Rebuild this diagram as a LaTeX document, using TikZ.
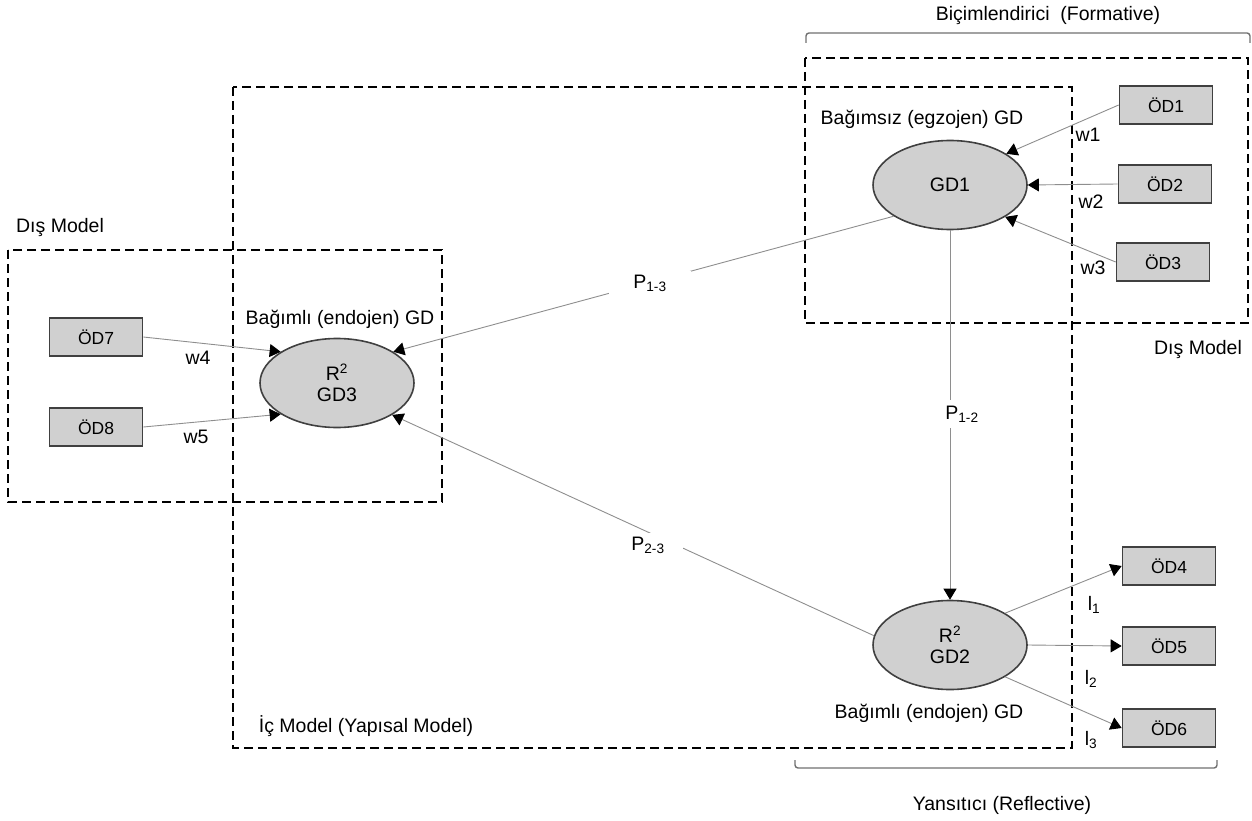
\documentclass[tikz,border=0pt]{standalone}
\usepackage{fontspec}
\setmainfont{Liberation Sans}
\usetikzlibrary{shapes.geometric,arrows.meta}
\definecolor{boxfill}{HTML}{D0D0D0}
\definecolor{boxline}{HTML}{404040}
\definecolor{connc}{HTML}{8E8E8E}
\definecolor{bracec}{HTML}{707070}
\begin{document}
\begin{tikzpicture}[x=1pt,y=-1pt,
  obs/.style={rectangle,draw=boxline,fill=boxfill,line width=1.7pt,minimum width=93pt,minimum height=38pt,inner sep=0pt,font=\fontsize{17.5}{20}\selectfont},
  lat/.style={ellipse,draw=boxline,fill=boxfill,line width=1.6pt,minimum width=154pt,minimum height=89pt,inner sep=0pt,align=center,font=\fontsize{19.5}{21}\selectfont},
  region/.style={draw=black,line width=2pt,dash pattern=on 9pt off 5pt},
  conn/.style={draw=connc,line width=0.9pt,-{Triangle[length=11pt,width=13pt,color=black]}},
  lbl/.style={font=\fontsize{19.5}{22}\selectfont,inner sep=1pt},
  plbl/.style={lbl,fill=white,inner ysep=4pt},
  bracket/.style={draw=bracec,line width=1.4pt,rounded corners=3pt}]

\useasboundingbox (0,0) rectangle (1252,821);

% dashed regions
\draw[region] (233,87) rectangle (1072,748);
\draw[region] (805,58) rectangle (1248,323);
\draw[region] (8,250) rectangle (442,502);

% brackets
\draw[bracket] (806,43) -- (806,33) -- (1250,33) -- (1250,43);
\draw[bracket] (795,760) -- (795,768) -- (1217,768) -- (1217,760);

% latent variables
\node[lat] (GD1) at (950,185) {GD1};
\node[lat] (GD3) at (337,383) {R\textsuperscript{2}\\GD3};
\node[lat] (GD2) at (950,645) {R\textsuperscript{2}\\GD2};

% indicators
\node[obs] (OD1) at (1166,105) {ÖD1};
\node[obs] (OD2) at (1165,184) {ÖD2};
\node[obs] (OD3) at (1163,262) {ÖD3};
\node[obs] (OD4) at (1169,566) {ÖD4};
\node[obs] (OD5) at (1169,646) {ÖD5};
\node[obs] (OD6) at (1169,728) {ÖD6};
\node[obs] (OD7) at (96,337) {ÖD7};
\node[obs] (OD8) at (96,427) {ÖD8};

% measurement connectors
\draw[conn] (OD1.west) -- (GD1.29);
\draw[conn] (OD2.west) -- (GD1.east);
\draw[conn] (OD3.west) -- (GD1.-30);
\draw[conn] (OD7.east) -- (GD3.151);
\draw[conn] (OD8.east) -- (GD3.209);
\draw[conn] (GD2.30) -- (OD4.west);
\draw[conn] (GD2.east) -- (OD5.west);
\draw[conn] (GD2.-30) -- (OD6.west);

% structural connectors
\draw[conn] (GD1.209) -- (GD3.29);
\draw[conn] (GD2.173) -- (GD3.-30);
\draw[conn] (GD1.south) -- (GD2.north);

% path labels (white fill cuts a gap in the line)
\node[plbl,inner xsep=24pt] (P13) at (650,283) {P\textsubscript{1-3}};
\node[plbl,inner xsep=18pt] (P23) at (648,545) {P\textsubscript{2-3}};
\node[plbl,inner xsep=3pt,inner ysep=6pt] (P12) at (962,414) {P\textsubscript{1-2}};

% weights and loadings
\node[lbl] (w1) at (1088,135) {w1};
\node[lbl] (w2) at (1091,202) {w2};
\node[lbl] (w3) at (1093,268) {w3};
\node[lbl] (w4) at (198,358) {w4};
\node[lbl] (w5) at (196,437) {w5};
\node[lbl] (l1) at (1094,605) {l\textsubscript{1}};
\node[lbl] (l2) at (1091,679) {l\textsubscript{2}};
\node[lbl] (l3) at (1091,740) {l\textsubscript{3}};

% descriptive labels
\node[lbl] (tform) at (1048,16) {Biçimlendirici\ \ (Formative)};
\node[lbl] (trefl) at (1002,805) {Yansıtıcı (Reflective)};
\node[lbl] (tdisL) at (60,228) {Dış Model};
\node[lbl] (tdisR) at (1198,349) {Dış Model};
\node[lbl] (tic) at (366,726) {İç Model (Yapısal Model)};
\node[lbl] (tgd1) at (922,119) {Bağımsız (egzojen) GD};
\node[lbl] (tgd3) at (340,319) {Bağımlı (endojen) GD};
\node[lbl] (tgd2) at (929,713) {Bağımlı (endojen) GD};
\end{tikzpicture}
\end{document}
